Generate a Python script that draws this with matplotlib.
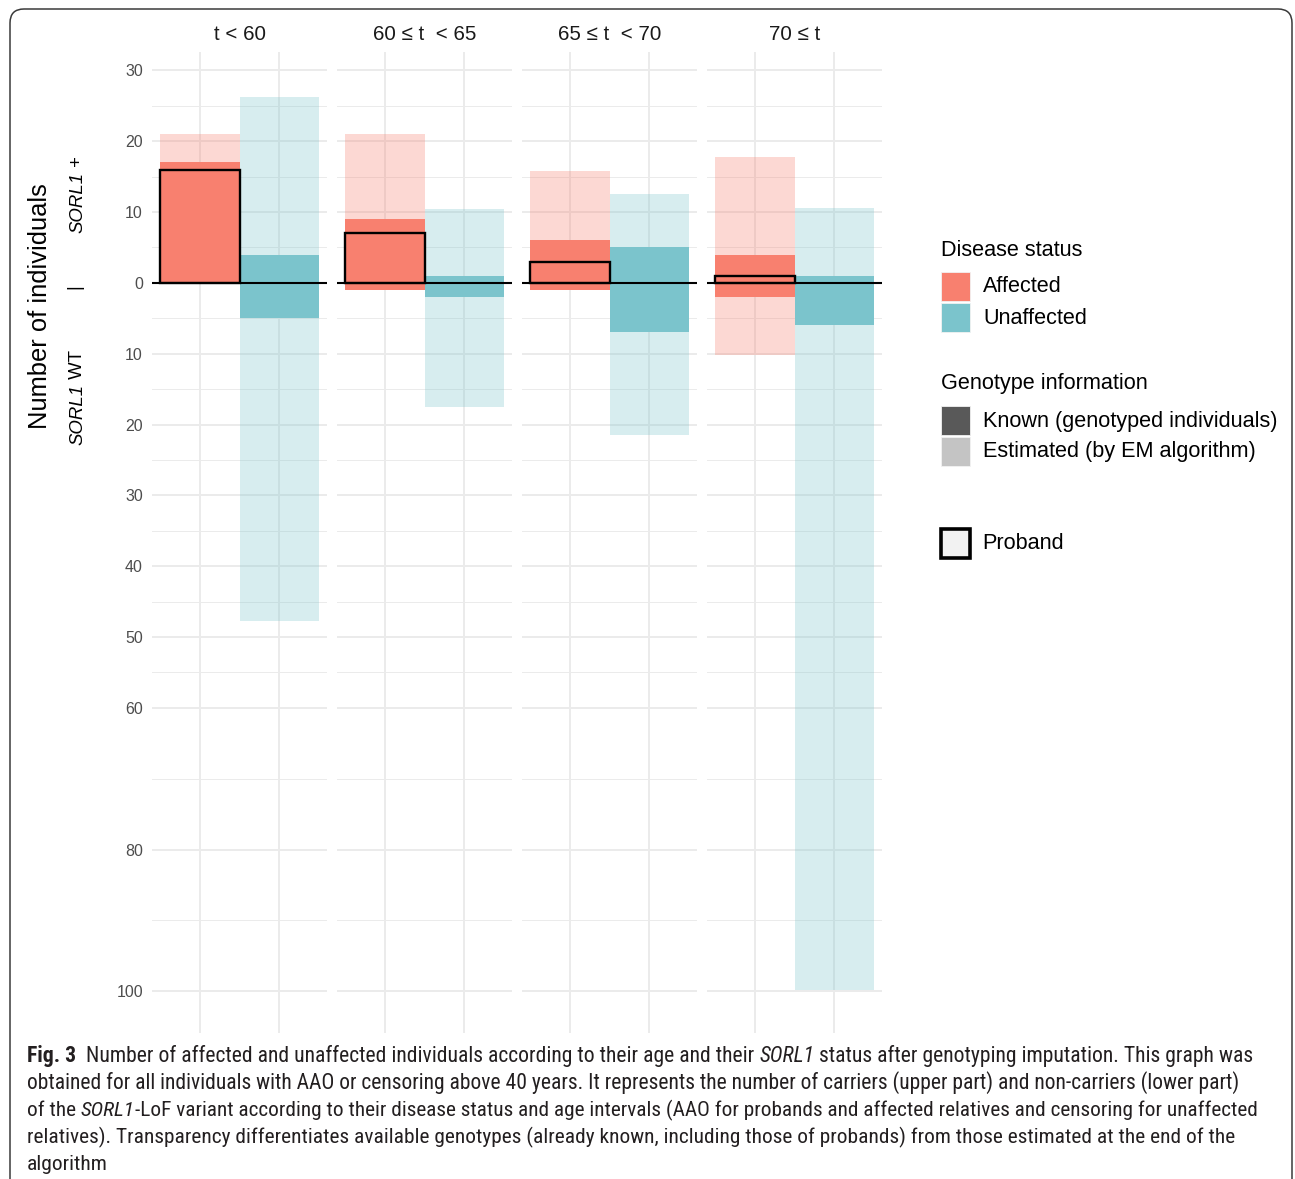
import numpy as np
import matplotlib
matplotlib.use("Agg")
import matplotlib.pyplot as plt
from matplotlib import font_manager
from matplotlib.patches import Rectangle, FancyBboxPatch
from matplotlib.transforms import IdentityTransform
from matplotlib.font_manager import FontProperties

# age intervals (facets)
facets = ["t < 60", "60 \u2264 t  < 65", "65 \u2264 t  < 70", "70 \u2264 t"]

# affected individuals: carriers (up) and non-carriers (down), known / estimated
aff_up_known = [17, 9, 6, 4]
aff_up_est = [4, 12, 9.8, 13.8]
aff_down_known = [0, 1, 1, 2]
aff_down_est = [0, 0, 0, 8.2]

# unaffected individuals
unaff_up_known = [4, 1, 5, 1]
unaff_up_est = [22.3, 9.5, 7.6, 9.6]
unaff_down_known = [5, 2, 7, 6]
unaff_down_est = [42.8, 15.5, 14.5, 93.8]

# probands (all affected carriers)
proband = [16, 7, 3, 1]

ytick_vals = [-100, -80, -60, -50, -40, -30, -20, -10, 0, 10, 20, 30]
yminor_vals = [-90, -70, -55, -45, -35, -25, -15, -5, 5, 15, 25]

col_aff = "#F8806F"
col_unaff = "#7BC4CC"
col_known = "#595959"
col_est = "#C4C4C4"

font = ["Liberation Sans", "DejaVu Sans"]
plt.rcParams["font.family"] = font

avail = {f.name for f in font_manager.fontManager.ttflist}
cap_family = next((f for f in ["Liberation Sans Narrow", "Roboto Condensed",
                               "Open Sans Condensed", "Lato"] if f in avail), "DejaVu Sans")

W, H = 1295, 1179
fig = plt.figure(figsize=(W / 100, H / 100), dpi=100)


def fx(px):
    return px / W


def fy(py):
    return 1 - py / H


# panels
panel_left = [152, 337, 522, 707]
panel_w = 175
top, bottom = 52, 1033

for i in range(4):
    ax = fig.add_axes([fx(panel_left[i]), fy(bottom), panel_w / W, (bottom - top) / H])
    for xpos, col, uk, ue, dk, de in [
        (1, col_aff, aff_up_known, aff_up_est, aff_down_known, aff_down_est),
        (2, col_unaff, unaff_up_known, unaff_up_est, unaff_down_known, unaff_down_est),
    ]:
        ax.bar([xpos], [uk[i]], width=1, color=col, lw=0, zorder=2)
        ax.bar([xpos], [ue[i]], bottom=uk[i], width=1, color=col, alpha=0.3, lw=0, zorder=2)
        ax.bar([xpos], [-dk[i]], width=1, color=col, lw=0, zorder=2)
        ax.bar([xpos], [-de[i]], bottom=-dk[i], width=1, color=col, alpha=0.3, lw=0, zorder=2)
    ax.axhline(0, color="black", lw=1.5, zorder=3)
    # proband outline
    ax.bar([1], [proband[i]], width=1, fill=False, edgecolor="black", lw=1.7, zorder=4)

    ax.set_xlim(0.4, 2.6)
    ax.set_ylim(-105.9, 32.6)
    ax.set_xticks([1, 2])
    ax.set_yticks(ytick_vals)
    ax.set_yticks(yminor_vals, minor=True)
    ax.grid(True, which="major", color="#EBEBEB", lw=1.4, zorder=0)
    ax.grid(True, which="minor", axis="y", color="#EBEBEB", lw=0.7, zorder=0)
    ax.set_axisbelow(True)
    for s in ax.spines.values():
        s.set_visible(False)
    ax.tick_params(which="both", length=0, pad=6.5)
    ax.set_xticklabels([])
    if i == 0:
        ax.set_yticklabels([str(abs(v)) for v in ytick_vals], fontsize=11.5, color="#4D4D4D")
    else:
        ax.set_yticklabels([])
    ax.text(0.5, 1 + 17 / (bottom - top), facets[i], transform=ax.transAxes,
            ha="center", va="center", fontsize=14.8, color="#1A1A1A")

# axis title
fig.text(fx(40), fy(306), "Number of individuals", rotation=90, ha="center", va="center",
         fontsize=18.4, color="black")

renderer = fig.canvas.get_renderer()


def advance(s, prop):
    w1 = renderer.get_text_width_height_descent(s + "x", prop, False)[0]
    w2 = renderer.get_text_width_height_descent("x", prop, False)[0]
    return w1 - w2


def make_prop(family, size, style):
    return FontProperties(family=family, size=size,
                          weight="bold" if style == "b" else "normal",
                          style="italic" if style == "i" else "normal")


def draw_runs(x, y, runs, size, family, rotation=0, color="black", va="baseline"):
    for txt, style in runs:
        prop = make_prop(family, size, style)
        fig.text(fx(x), fy(y), txt, fontproperties=prop, rotation=rotation,
                 rotation_mode="anchor", ha="left", va=va, color=color)
        adv = advance(txt, prop)
        if rotation == 90:
            y -= adv
        else:
            x += adv


draw_runs(78, 445, [("SORL1", "i"), (" WT", "n")], 13.4, font, rotation=90, va="center")
fig.text(fx(75), fy(287), "|", rotation=90, ha="center", va="center", fontsize=13.4)
draw_runs(78, 233, [("SORL1", "i"), (" +", "n")], 13.4, font, rotation=90, va="center")

# legend
leg_fs = 15.6


def key(y0, color, edge=None, lw=0):
    fig.add_artist(Rectangle((fx(941), fy(y0 + 29)), 29 / W, 29 / H, transform=fig.transFigure,
                             facecolor=color, edgecolor=edge if edge else "#F2F2F2",
                             lw=lw if edge else 0.6))


fig.text(fx(941), fy(250), "Disease status", fontsize=leg_fs, va="center", ha="left")
key(272, col_aff)
fig.text(fx(983), fy(287), "Affected", fontsize=leg_fs, va="center", ha="left")
key(303, col_unaff)
fig.text(fx(983), fy(318), "Unaffected", fontsize=leg_fs, va="center", ha="left")

fig.text(fx(941), fy(384), "Genotype information", fontsize=leg_fs, va="center", ha="left")
key(406, col_known)
fig.text(fx(983), fy(421), "Known (genotyped individuals)", fontsize=leg_fs, va="center", ha="left")
key(437, col_est)
fig.text(fx(983), fy(452), "Estimated (by EM algorithm)", fontsize=leg_fs, va="center", ha="left")

key(529, "#F2F2F2", edge="black", lw=2.6)
fig.text(fx(982), fy(543), "Proband", fontsize=leg_fs, va="center", ha="left")

# page frame
frame = FancyBboxPatch((10, -40), 1282, H - 9 + 40, boxstyle="round,pad=0,rounding_size=14",
                       transform=IdentityTransform(), fill=False, edgecolor="#3A3A3A", lw=1.1)
fig.add_artist(frame)

# caption
cap_lines = [
    [("Fig. 3", "b"), ("  Number of affected and unaffected individuals according to their age and their ", "n"),
     ("SORL1", "i"), (" status after genotyping imputation. This graph was", "n")],
    [("obtained for all individuals with AAO or censoring above 40 years. It represents the number of carriers (upper part) and non-carriers (lower part)", "n")],
    [("of the ", "n"), ("SORL1", "i"), ("-LoF variant according to their disease status and age intervals (AAO for probands and affected relatives and censoring for unaffected", "n")],
    [("relatives). Transparency differentiates available genotypes (already known, including those of probands) from those estimated at the end of the", "n")],
    [("algorithm", "n")],
]
cap_right = [1245, 1235, 1253, 1229, None]
sizes = []
for line, right in zip(cap_lines, cap_right):
    if right is None:
        sizes.append(float(np.mean(sizes)))
        continue
    w10 = sum(advance(t, make_prop(cap_family, 10, s)) for t, s in line)
    sizes.append(10 * (right - 27) / w10)
for k, line in enumerate(cap_lines):
    draw_runs(27, 1062 + k * 27, line, sizes[k], cap_family, color="#231F20")

fig.savefig("out.png", dpi=100)
